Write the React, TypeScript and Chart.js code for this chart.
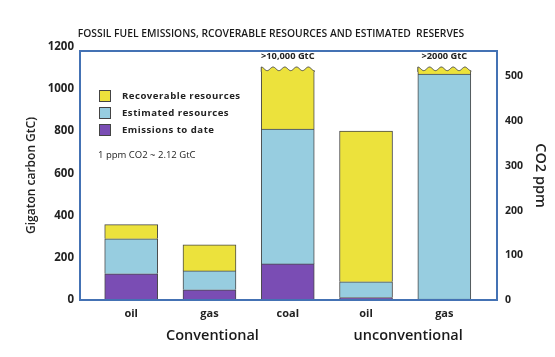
import React, { useEffect, useRef } from 'react';
import { Chart, registerables } from 'chart.js';

Chart.register(...registerables);

const categories = ['oil', 'gas', 'coal', 'oil', 'gas'];
const groupLabels = ['Conventional', 'unconventional'];
const groupCenters = [1, 3.5];
const emissionsToDate = [124, 48, 171, 12, 4];
const estimatedResources = [166, 90, 639, 74, 1067];
const recoverableResources = [67, 124, 295, 714, 34];
const capLabels = ['', '', '>10,000 GtC', '', '>2000 GtC'];
const leftTicks = [0, 200, 400, 600, 800, 1000, 1200];
const rightTicks = [0, 100, 200, 300, 400, 500];
const GTC_PER_PPM = 2.12;
const Y_MAX = 1180;
const titleText = 'FOSSIL FUEL EMISSIONS, RCOVERABLE RESOURCES AND ESTIMATED  RESERVES';
const noteText = '1 ppm CO2 ~ 2.12 GtC';

const FONT = "'Open Sans', 'DejaVu Sans', sans-serif";
const YELLOW = '#ECE23C';
const BLUE = '#97CDE0';
const PURPLE = '#7A4DB4';
const BORDER = '#4a4a4a';
const FRAME = '#4472B4';

const toPoints = (arr: number[]) => arr.map((v, i) => ({ x: i, y: v }));

const overlayPlugin = {
  id: 'overlay',
  afterDatasetsDraw(chart: any) {
    const ctx = chart.ctx;
    const topIdx = chart.data.datasets.length - 1;
    const meta = chart.getDatasetMeta(topIdx);
    meta.data.forEach((bar: any, i: number) => {
      if (!capLabels[i]) return;
      const { x, y, width } = bar;
      const l = x - width / 2;
      const r = x + width / 2;
      ctx.save();
      ctx.fillStyle = '#ffffff';
      ctx.fillRect(l - 1, y - 2, width + 2, 6);
      const period = width / 4.5;
      const waveY = (px: number) => y + 2 - 1.8 * Math.sin(((px - l) / period) * 2 * Math.PI + Math.PI / 2);
      ctx.beginPath();
      ctx.moveTo(l, waveY(l));
      for (let px = l; px <= r; px += 0.5) ctx.lineTo(px, waveY(px));
      ctx.lineTo(r, y + 5);
      ctx.lineTo(l, y + 5);
      ctx.closePath();
      ctx.fillStyle = YELLOW;
      ctx.fill();
      ctx.beginPath();
      ctx.moveTo(l, y + 5);
      ctx.lineTo(l, waveY(l));
      for (let px = l; px <= r; px += 0.5) ctx.lineTo(px, waveY(px));
      ctx.lineTo(r, y + 5);
      ctx.strokeStyle = BORDER;
      ctx.lineWidth = 1;
      ctx.stroke();
      ctx.fillStyle = '#222';
      ctx.font = `bold 9.3px ${FONT}`;
      ctx.textAlign = 'center';
      ctx.textBaseline = 'middle';
      ctx.fillText(capLabels[i], x, y - 10);
      ctx.restore();
    });
  },
  afterDraw(chart: any) {
    const ctx = chart.ctx;
    const { left, right, top, bottom } = chart.chartArea;
    ctx.save();
    // frame
    ctx.strokeStyle = FRAME;
    ctx.lineWidth = 2;
    ctx.strokeRect(left, top, right - left, bottom - top);
    // title
    ctx.fillStyle = '#1a1a1a';
    ctx.font = `600 10.3px ${FONT}`;
    ctx.textAlign = 'center';
    ctx.textBaseline = 'middle';
    ctx.fillText(titleText, 271, 34);
    // group labels
    const xs = chart.scales.x;
    ctx.font = `600 14.5px ${FONT}`;
    groupLabels.forEach((g, i) => {
      ctx.fillText(g, xs.getPixelForValue(groupCenters[i]) + 3, 336);
    });
    // legend
    const ds = chart.data.datasets.slice().reverse();
    ctx.textAlign = 'left';
    ds.forEach((d: any, i: number) => {
      const cy = 96 + i * 17;
      ctx.fillStyle = d.backgroundColor;
      ctx.fillRect(99, cy - 6, 11, 11);
      ctx.strokeStyle = '#444';
      ctx.lineWidth = 1;
      ctx.strokeRect(99.5, cy - 5.5, 11, 11);
      ctx.fillStyle = '#222';
      ctx.font = `bold 9.6px ${FONT}`;
      (ctx as any).letterSpacing = '0.5px';
      ctx.fillText(d.label, 122, cy);
      (ctx as any).letterSpacing = '0px';
    });
    ctx.font = `9.5px ${FONT}`;
    ctx.fillText(noteText, 98, 155);
    ctx.restore();
  },
};

export default function App() {
  const ref = useRef<HTMLCanvasElement>(null);
  useEffect(() => {
    if (!ref.current) return;
    const chart = new Chart(ref.current, {
      type: 'bar',
      data: {
        datasets: [
          { label: 'Emissions to date', data: toPoints(emissionsToDate), backgroundColor: PURPLE, borderColor: BORDER, borderWidth: 1, barThickness: 53 },
          { label: 'Estimated resources', data: toPoints(estimatedResources), backgroundColor: BLUE, borderColor: BORDER, borderWidth: 1, barThickness: 53 },
          { label: 'Recoverable resources', data: toPoints(recoverableResources), backgroundColor: YELLOW, borderColor: BORDER, borderWidth: 1, barThickness: 53 },
        ],
      } as any,
      options: {
        animation: false,
        responsive: false,
        layout: { padding: { top: 51, left: 0, right: 0, bottom: 0 } },
        plugins: { legend: { display: false }, tooltip: { enabled: false }, title: { display: false } },
        scales: {
          x: {
            type: 'linear',
            stacked: true,
            offset: false,
            min: -0.654,
            max: 4.673,
            grid: { display: false, drawTicks: false, offset: false },
            border: { display: false },
            afterBuildTicks: (s: any) => { s.ticks = categories.map((_, i) => ({ value: i })); },
            afterFit: (s: any) => { s.height = 57; },
            ticks: {
              autoSkip: false,
              maxRotation: 0,
              padding: 7,
              color: '#222',
              font: { family: FONT, size: 11, weight: 'bold' },
              callback: (v: any) => categories[Math.round(Number(v))] ?? '',
            },
          },
          y: {
            type: 'linear',
            position: 'left',
            stacked: true,
            min: 0,
            max: Y_MAX,
            grid: { display: false, drawTicks: false },
            border: { display: false },
            afterBuildTicks: (s: any) => { s.ticks = leftTicks.map((v) => ({ value: v })); },
            afterFit: (s: any) => { s.width = 80; },
            ticks: { autoSkip: false, padding: 6, color: '#222', font: { family: FONT, size: 11.5, weight: 'bold' }, callback: (v: any) => String(v) },
            title: { display: true, text: 'Gigaton carbon GtC)', color: '#222', font: { family: FONT, size: 12, weight: '600' }, padding: { top: 24, bottom: 0 } },
          },
          y2: {
            type: 'linear',
            position: 'right',
            min: 0,
            max: Y_MAX / GTC_PER_PPM,
            grid: { display: false, drawTicks: false },
            border: { display: false },
            afterBuildTicks: (s: any) => { s.ticks = rightTicks.map((v) => ({ value: v })); },
            afterFit: (s: any) => { s.width = 58; },
            ticks: { autoSkip: false, padding: 8, color: '#222', font: { family: FONT, size: 10.5, weight: 'bold' }, callback: (v: any) => String(v) },
            title: { display: true, text: 'CO2 ppm', color: '#222', font: { family: FONT, size: 14.5, weight: '600' }, padding: { top: 6, bottom: 0 } },
          },
        },
      } as any,
      plugins: [overlayPlugin],
    });
    return () => chart.destroy();
  }, []);
  return (
    <div style={{ position: 'absolute', left: 0, top: 0, width: 555, height: 357, background: '#fff' }}>
      <canvas ref={ref} width={555} height={357} style={{ display: 'block' }} />
    </div>
  );
}
